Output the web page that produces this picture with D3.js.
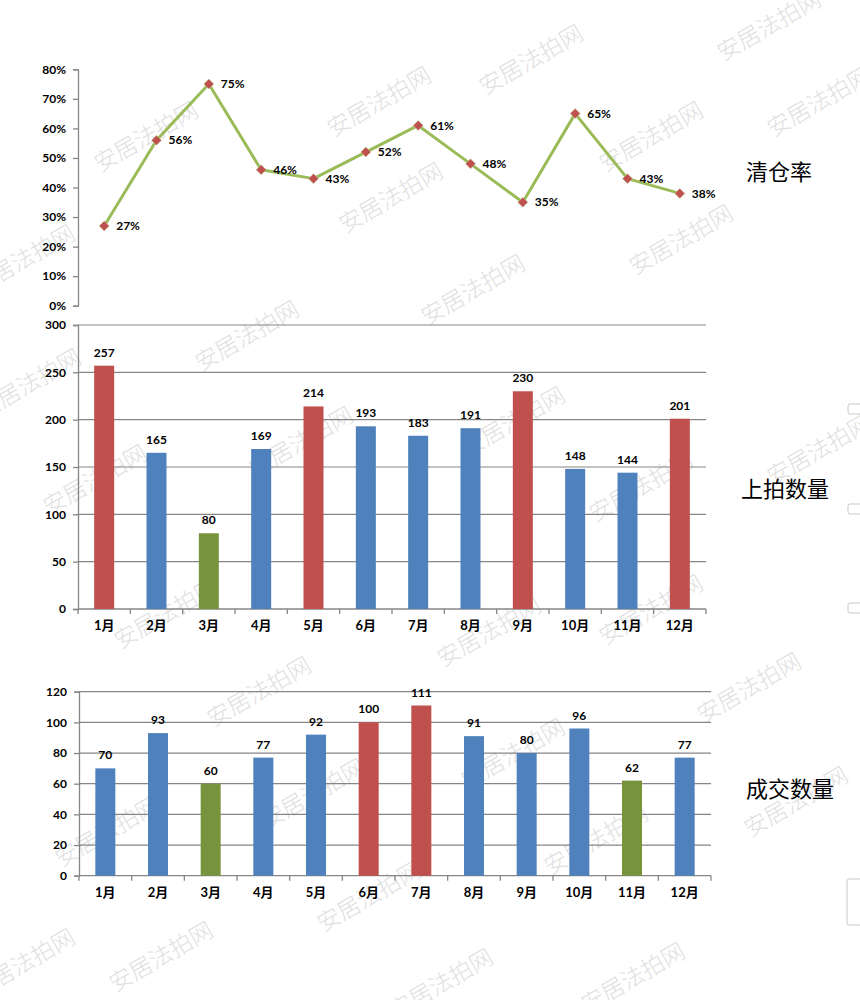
<!DOCTYPE html>
<html><head><meta charset="utf-8">
<script src="https://cdn.jsdelivr.net/npm/d3@7"></script>
<style>
body{margin:0;background:#fff;}
svg{display:block;}
text{font-family:Lato,"Noto Sans CJK SC",sans-serif;}
</style></head>
<body><svg id="c" width="860" height="1000"></svg>
<script>
const months = ["1月","2月","3月","4月","5月","6月","7月","8月","9月","10月","11月","12月"];
const clearRate = [27,56,75,46,43,52,61,48,35,65,43,38];
const listed = [257,165,80,169,214,193,183,191,230,148,144,201];
const listedFlag = ["high","mid","low","mid","high","mid","mid","mid","high","mid","mid","high"];
const sold = [70,93,60,77,92,100,111,91,80,96,62,77];
const soldFlag = ["mid","mid","low","mid","mid","high","high","mid","mid","mid","low","mid"];
const rateTicks = [0,10,20,30,40,50,60,70,80];
const listedTicks = [0,50,100,150,200,250,300];
const soldTicks = [0,20,40,60,80,100,120];
const titles = ["清仓率","上拍数量","成交数量"];
const watermark = "安居法拍网";

const colorOf = {high:"#C0504D", mid:"#4F81BD", low:"#77933C"};
const svg = d3.select("#c");
const AX = "#868686";
const fontLbl = "bold 12px Lato, 'Noto Sans CJK SC', sans-serif";

// watermarks
const wmPos = [[768,24],[530,58],[378,100],[145,135],[650,135],[818,100],[390,196],[680,238],[22,258],[472,288],[246,334],[28,382],[512,420],[818,448],[300,440],[94,478],[640,485],[165,612],[650,608],[488,630],[748,686],[258,690],[512,752],[106,830],[312,792],[595,838],[795,800],[368,895],[160,955],[22,962],[440,982],[632,976]];
const wm = svg.append("g");
wm.selectAll("text").data(wmPos).join("text")
  .attr("transform", d => `translate(${d[0]},${d[1]}) rotate(-30)`)
  .attr("text-anchor","middle").attr("dominant-baseline","central")
  .style("font-family","'Noto Sans CJK SC'").style("font-weight","300")
  .style("font-size","23px").attr("fill","#e0e0e0")
  .text(watermark);

function yAxisDraw(g, y, fmt){
  const ax = d3.axisLeft(y).tickValues(g.ticks).tickSize(5).tickPadding(7).tickFormat(fmt);
  const s = svg.append("g").attr("transform",`translate(${g.x0},0)`).call(ax);
  s.select(".domain").attr("stroke",AX).attr("stroke-width",1.3);
  s.selectAll(".tick line").attr("stroke",AX).attr("stroke-width",1.3);
  s.selectAll(".tick text").attr("fill","#000").style("font",fontLbl);
  return s;
}

// ---------- Chart 1: line ----------
{
  const x0 = 78, x1 = 706;
  const x = d3.scaleBand().domain(months).range([x0, x1]);
  const y = d3.scaleLinear().domain([0,80]).range([305.7, 69.3]);
  yAxisDraw({x0, ticks: rateTicks}, y, d => d + "%");
  const line = d3.line().x((d,i)=>x(months[i])+x.bandwidth()/2).y(d=>y(d));
  svg.append("path").datum(clearRate).attr("d",line)
    .attr("fill","none").attr("stroke","#9BBB59").attr("stroke-width",3).attr("stroke-linejoin","round");
  const pts = svg.append("g").selectAll("g").data(clearRate).join("g")
    .attr("transform",(d,i)=>`translate(${x(months[i])+x.bandwidth()/2},${y(d)})`);
  pts.append("path").attr("d",d3.symbol(d3.symbolSquare, 50)()).attr("transform","rotate(45)")
    .attr("fill","#C0504D").attr("stroke","#B9CD96").attr("stroke-width",0.5);
  pts.append("text").attr("x",12).attr("dy","0.35em").style("font",fontLbl).attr("fill","#000")
    .text(d=>d+"%");
  svg.append("text").attr("x",779).attr("y",170).attr("text-anchor","middle").attr("dominant-baseline","central")
    .style("font-family","'Noto Sans CJK SC'").style("font-size","22px").attr("fill","#000").text(titles[0]);
}

function barChart(vals, flags, ticks, maxV, x0, x1, yTop, yBot, labelY, title, titleX, titleY){
  const x = d3.scaleBand().domain(months).range([x0, x1]).paddingInner(0).paddingOuter(0);
  const y = d3.scaleLinear().domain([0,maxV]).range([yBot, yTop]);
  svg.append("g").selectAll("line").data(ticks.filter(t=>t>0)).join("line")
    .attr("x1",x0).attr("x2",x1).attr("y1",d=>y(d)).attr("y2",d=>y(d))
    .attr("stroke",AX).attr("stroke-width",1.2);
  yAxisDraw({x0, ticks}, y, d=>d);
  const xb = svg.append("g").attr("transform",`translate(0,${yBot})`);
  xb.append("line").attr("x1",x0).attr("x2",x1).attr("stroke",AX).attr("stroke-width",1.3);
  const bounds = months.map((m)=>x(m)).concat([x1]);
  xb.selectAll("line.tk").data(bounds).join("line").attr("class","tk")
    .attr("x1",d=>d).attr("x2",d=>d).attr("y1",0).attr("y2",5).attr("stroke",AX).attr("stroke-width",1.3);
  svg.append("g").selectAll("text").data(months).join("text")
    .attr("x",d=>x(d)+x.bandwidth()/2).attr("y",labelY).attr("text-anchor","middle").attr("dominant-baseline","central")
    .style("font","bold 13px Lato, 'Noto Sans CJK SC', sans-serif").attr("fill","#000").text(d=>d);
  const bw = 20;
  const bars = svg.append("g").selectAll("g").data(vals).join("g");
  bars.append("rect")
    .attr("x",(d,i)=>x(months[i])+x.bandwidth()/2-bw/2).attr("width",bw)
    .attr("y",d=>y(d)).attr("height",d=>yBot-y(d))
    .attr("fill",(d,i)=>colorOf[flags[i]]);
  bars.append("text")
    .attr("x",(d,i)=>x(months[i])+x.bandwidth()/2).attr("y",d=>y(d)-9)
    .attr("text-anchor","middle").style("font",fontLbl).attr("fill","#000").text(d=>d);
  svg.append("text").attr("x",titleX).attr("y",titleY).attr("text-anchor","middle").attr("dominant-baseline","central")
    .style("font-family","'Noto Sans CJK SC'").style("font-size","22px").attr("fill","#000").text(title);
}

barChart(listed, listedFlag, listedTicks, 300, 78, 706, 325, 609, 625, titles[1], 785, 487);
barChart(sold, soldFlag, soldTicks, 120, 79, 711, 691.7, 875.7, 892, titles[2], 790, 787);

const boxes = [[848,404,14,10],[848,504,14,10],[848,603,14,10],[847,879,16,46]];
svg.append("g").selectAll("rect").data(boxes).join("rect")
  .attr("x",d=>d[0]).attr("y",d=>d[1]).attr("width",d=>d[2]).attr("height",d=>d[3]).attr("rx",2)
  .attr("fill","#fff").attr("stroke","#c8c8c8");
</script></body></html>
